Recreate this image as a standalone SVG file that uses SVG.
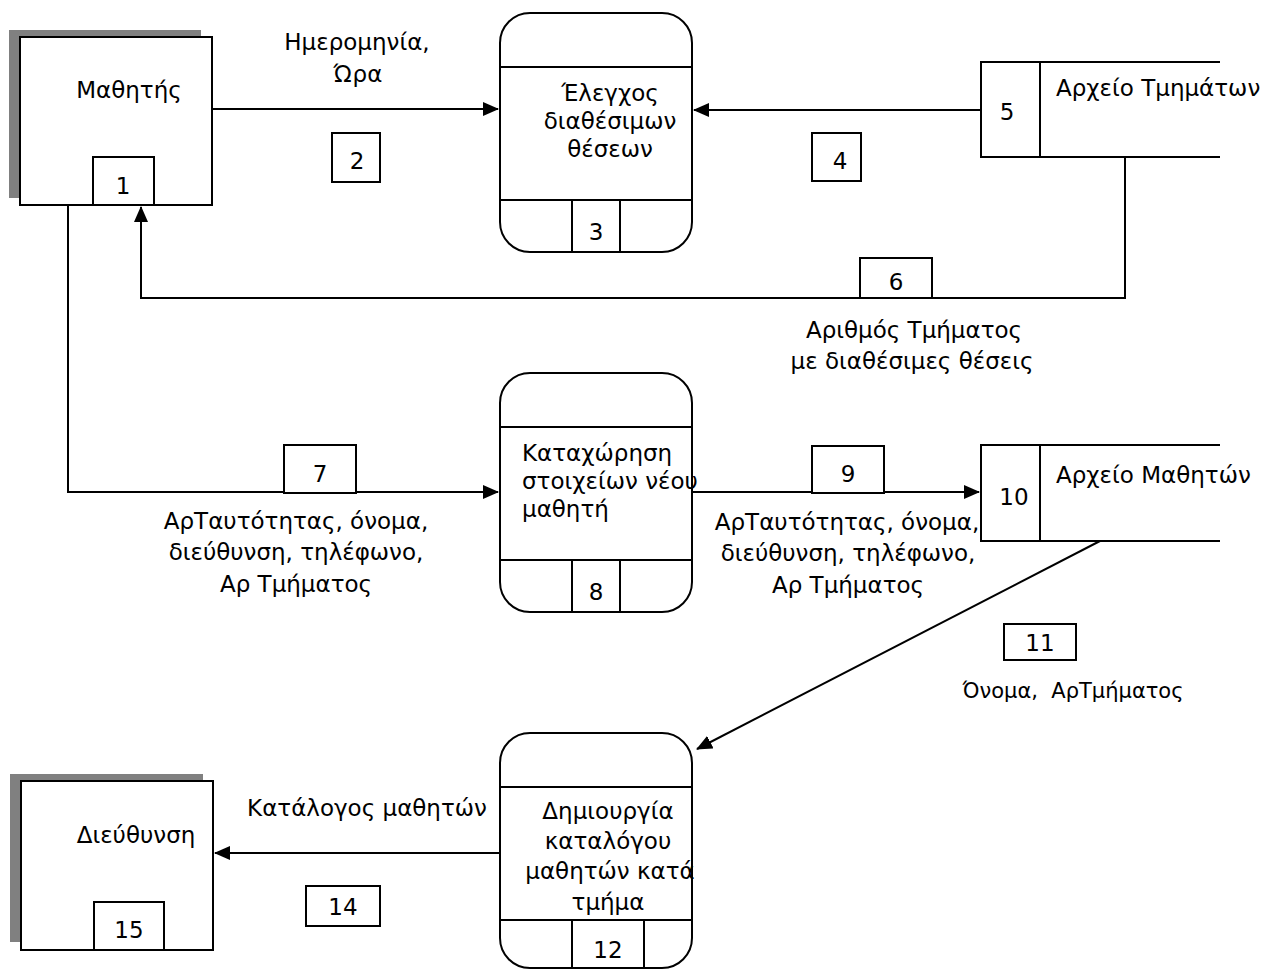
<svg xmlns="http://www.w3.org/2000/svg" width="1264" height="970" viewBox="0 0 1264 970">
<defs>
<style>
.s{fill:#fff;stroke:#000;stroke-width:2}
.ln{fill:none;stroke:#000;stroke-width:2}
.sh{fill:#808080}
text{font-family:"DejaVu Sans",Verdana,sans-serif;font-size:23px;fill:#000}
.c{text-anchor:middle}
</style>
<marker id="ar" markerUnits="userSpaceOnUse" markerWidth="16" markerHeight="14" refX="15" refY="7" orient="auto">
<path d="M0,0 L16,7 L0,14 Z" fill="#000"/>
</marker>
</defs>
<rect width="1264" height="970" fill="#fff"/>

<g id="connectors">
<path class="ln" d="M212,109 H498" marker-end="url(#ar)"/>
<path class="ln" d="M981,110 H694" marker-end="url(#ar)"/>
<path class="ln" d="M1125,157 V298 H141 V207" marker-end="url(#ar)"/>
<path class="ln" d="M68,205 V492 H498" marker-end="url(#ar)"/>
<path class="ln" d="M692,492 H979" marker-end="url(#ar)"/>
<path class="ln" d="M1100,541 L697,749" marker-end="url(#ar)"/>
<path class="ln" d="M500,853 H215" marker-end="url(#ar)"/>
</g>

<g id="n1">
<rect class="sh" x="9" y="30" width="192" height="168"/>
<rect class="s" x="20" y="37" width="192" height="168"/>
<text class="c" x="129" y="98">Μαθητής</text>
<rect class="s" x="93" y="157" width="61" height="48"/>
<text class="c" x="123" y="194">1</text>
</g>

<g id="f2">
<text class="c" x="357" y="50">Ημερομηνία,</text>
<text class="c" x="358" y="82">Ώρα</text>
<rect class="s" x="332" y="133" width="48" height="49"/>
<text class="c" x="357" y="169">2</text>
</g>

<g id="p3">
<rect class="s" x="500" y="13" width="192" height="239" rx="30" ry="30"/>
<path class="ln" d="M500,67 H692 M500,200 H692"/>
<text class="c" x="610" y="101">Έλεγχος</text>
<text class="c" x="610" y="129">διαθέσιμων</text>
<text class="c" x="610" y="157">θέσεων</text>
<rect class="s" x="572" y="200" width="48" height="52"/>
<text class="c" x="596" y="240">3</text>
</g>

<g id="f4">
<rect class="s" x="812" y="133" width="49" height="48"/>
<text class="c" x="840" y="169">4</text>
</g>

<g id="d5">
<path class="ln" d="M1220,62 H981 V157 H1220 M1040,62 V157"/>
<text class="c" x="1007" y="120">5</text>
<text x="1056" y="96">Αρχείο Τμημάτων</text>
</g>

<g id="f6">
<rect class="s" x="860" y="258" width="72" height="40"/>
<text class="c" x="896" y="290">6</text>
<text class="c" x="914" y="338">Αριθμός Τμήματος</text>
<text class="c" x="912" y="369">με διαθέσιμες θέσεις</text>
</g>

<g id="f7">
<rect class="s" x="284" y="445" width="72" height="48"/>
<text class="c" x="320" y="482">7</text>
<text class="c" x="296" y="529">ΑρΤαυτότητας, όνομα,</text>
<text class="c" x="296" y="560">διεύθυνση, τηλέφωνο,</text>
<text class="c" x="296" y="592">Αρ Τμήματος</text>
</g>

<g id="p8">
<rect class="s" x="500" y="373" width="192" height="239" rx="30" ry="30"/>
<path class="ln" d="M500,427 H692 M500,560 H692"/>
<text x="522" y="461">Καταχώρηση</text>
<text x="522" y="489">στοιχείων νέου</text>
<text x="522" y="517">μαθητή</text>
<rect class="s" x="572" y="560" width="48" height="52"/>
<text class="c" x="596" y="600">8</text>
</g>

<g id="f9">
<rect class="s" x="812" y="446" width="72" height="47"/>
<text class="c" x="848" y="482">9</text>
<text class="c" x="847" y="530">ΑρΤαυτότητας, όνομα,</text>
<text class="c" x="848" y="561">διεύθυνση, τηλέφωνο,</text>
<text class="c" x="848" y="593">Αρ Τμήματος</text>
</g>

<g id="d10">
<path class="ln" d="M1220,445 H981 V541 H1220 M1040,445 V541"/>
<text class="c" x="1014" y="505">10</text>
<text x="1056" y="483">Αρχείο Μαθητών</text>
</g>

<g id="f11">
<rect class="s" x="1004" y="624" width="72" height="36"/>
<text class="c" x="1040" y="651">11</text>
<text class="c" x="1073" y="698" style="font-size:21px" xml:space="preserve">Όνομα,  ΑρΤμήματος</text>
</g>

<g id="p12">
<rect class="s" x="500" y="733" width="192" height="235" rx="30" ry="30"/>
<path class="ln" d="M500,787 H692 M500,920 H692"/>
<text class="c" x="608" y="819">Δημιουργία</text>
<text class="c" x="608" y="849">καταλόγου</text>
<text class="c" x="610" y="879">μαθητών κατά</text>
<text class="c" x="608" y="910">τμήμα</text>
<rect class="s" x="572" y="920" width="72" height="48"/>
<text class="c" x="608" y="958">12</text>
</g>

<g id="f14">
<text class="c" x="367" y="816">Κατάλογος μαθητών</text>
<rect class="s" x="306" y="886" width="74" height="40"/>
<text class="c" x="343" y="915">14</text>
</g>

<g id="n15">
<rect class="sh" x="10" y="774" width="193" height="168"/>
<rect class="s" x="21" y="781" width="192" height="169"/>
<text class="c" x="136" y="843">Διεύθυνση</text>
<rect class="s" x="94" y="902" width="70" height="48"/>
<text class="c" x="129" y="938">15</text>
</g>
</svg>
